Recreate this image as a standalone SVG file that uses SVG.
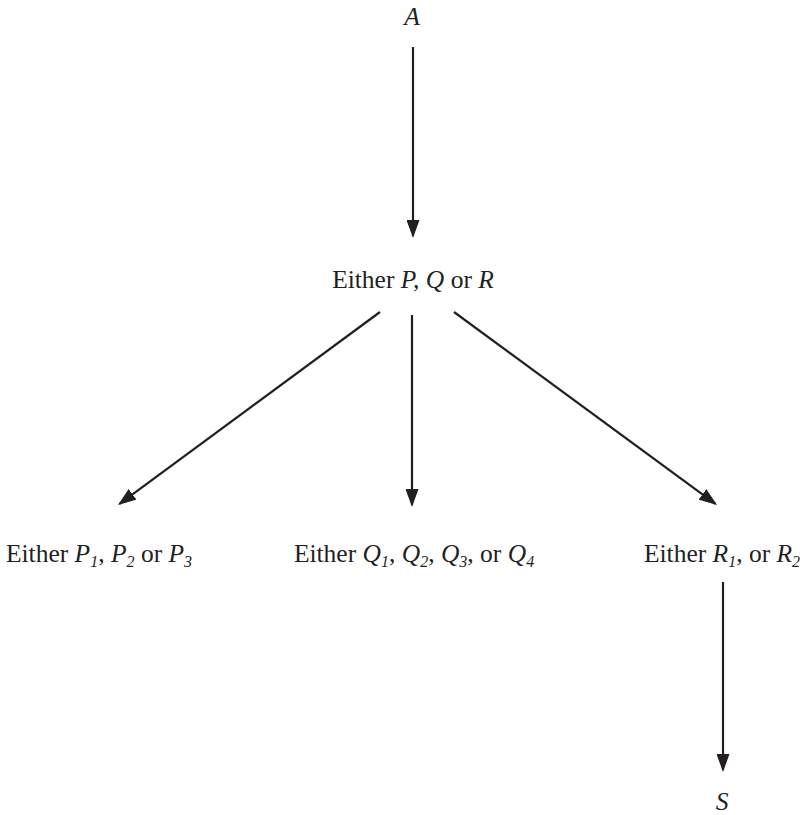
<svg xmlns="http://www.w3.org/2000/svg" width="807" height="815" viewBox="0 0 807 815">
<style>
  text { font-family: "Liberation Serif", "Times New Roman", serif; font-size: 25.5px; fill: #231f20; text-anchor: middle; }
  .i { font-style: italic; }
  .sub { font-style: italic; font-size: 16px; }
  .edge { stroke: #231f20; stroke-width: 2.2; fill: none; marker-end: url(#ah); }
</style>
<defs>
  <marker id="ah" viewBox="0 0 18 13" refX="16" refY="6.5" markerWidth="18" markerHeight="13" markerUnits="userSpaceOnUse" orient="auto">
    <path d="M0,0 L18,6.5 L0,13 Z" fill="#231f20"/>
  </marker>
</defs>
<rect width="807" height="815" fill="#ffffff"/>
<g id="connectors">
  <line class="edge" x1="413" y1="47" x2="413" y2="236"/>
  <line class="edge" x1="412" y1="315" x2="412" y2="505"/>
  <line class="edge" x1="380" y1="312" x2="119.6" y2="503.8"/>
  <line class="edge" x1="454" y1="312" x2="715.4" y2="503.8"/>
  <line class="edge" x1="723" y1="582" x2="723" y2="770"/>
</g>
<g id="node-A"><text x="412" y="25" class="i">A</text></g>
<g id="node-PQR"><text x="413" y="288">Either <tspan class="i">P,</tspan> <tspan class="i">Q</tspan> or <tspan class="i">R</tspan></text></g>
<g id="node-P"><text x="99" y="562">Either <tspan class="i">P</tspan><tspan class="sub" dy="5">1</tspan><tspan dy="-5">, </tspan><tspan class="i">P</tspan><tspan class="sub" dy="5">2</tspan><tspan dy="-5"> or </tspan><tspan class="i">P</tspan><tspan class="sub" dy="5">3</tspan></text></g>
<g id="node-Q"><text x="414" y="562">Either <tspan class="i">Q</tspan><tspan class="sub" dy="5">1</tspan><tspan dy="-5">, </tspan><tspan class="i">Q</tspan><tspan class="sub" dy="5">2</tspan><tspan dy="-5">, </tspan><tspan class="i">Q</tspan><tspan class="sub" dy="5">3</tspan><tspan dy="-5">, or </tspan><tspan class="i">Q</tspan><tspan class="sub" dy="5">4</tspan></text></g>
<g id="node-R"><text x="722" y="562">Either <tspan class="i">R</tspan><tspan class="sub" dy="5">1</tspan><tspan dy="-5">, or </tspan><tspan class="i">R</tspan><tspan class="sub" dy="5">2</tspan></text></g>
<g id="node-S"><text x="722" y="810" class="i">S</text></g>
</svg>
